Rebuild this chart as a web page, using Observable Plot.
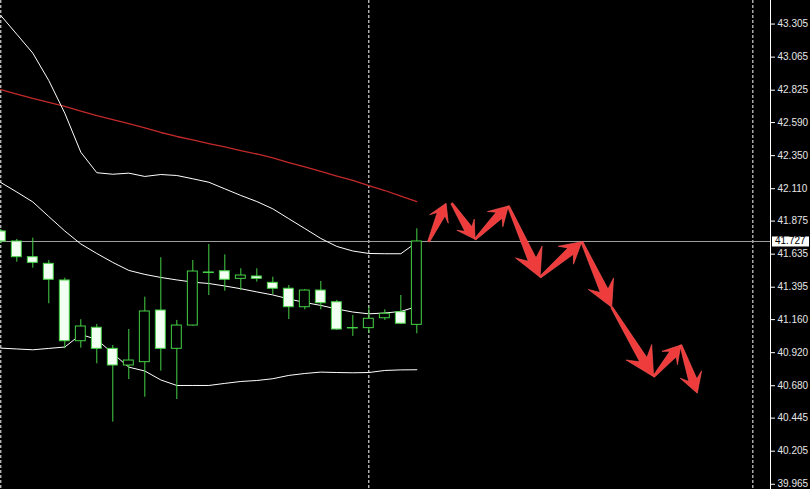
<!DOCTYPE html>
<html>
<head>
<meta charset="utf-8">
<script src="https://cdn.jsdelivr.net/npm/d3@7"></script>
<script src="https://cdn.jsdelivr.net/npm/@observablehq/plot@0.6"></script>
<style>
  html, body { margin: 0; padding: 0; background: #000; }
  #chart svg { display: block; }
</style>
</head>
<body>
<div id="chart"></div>
<script>
// ---- Candles (bar index 0..26) ----
const open  = [41.800, 41.727, 41.613, 41.565, 41.444, 41.003, 41.101, 40.948, 40.827, 40.851, 41.226, 40.948, 41.117, 41.502, 41.511, 41.456, 41.473, 41.427, 41.384, 41.250, 41.371, 41.286, 41.099, 41.098, 41.170, 41.214, 41.122];
const high  = [41.814, 41.742, 41.751, 41.589, 41.461, 41.159, 41.125, 40.972, 41.088, 41.323, 41.609, 41.154, 41.589, 41.705, 41.630, 41.529, 41.529, 41.468, 41.408, 41.378, 41.437, 41.299, 41.190, 41.250, 41.231, 41.335, 41.819];
const low   = [41.712, 41.577, 41.533, 41.275, 40.948, 40.953, 40.839, 40.416, 40.725, 40.597, 40.786, 40.580, 41.112, 41.335, 41.366, 41.371, 41.432, 41.340, 41.161, 41.231, 41.231, 41.081, 41.038, 41.059, 41.154, 41.125, 41.057];
const close = [41.727, 41.613, 41.572, 41.449, 41.003, 41.110, 40.948, 40.827, 40.863, 41.219, 40.948, 41.117, 41.509, 41.498, 41.449, 41.480, 41.456, 41.384, 41.250, 41.371, 41.279, 41.088, 41.096, 41.166, 41.202, 41.130, 41.727];

// ---- Indicators ----
const maRed     = [42.830, 42.797, 42.765, 42.736, 42.707, 42.674, 42.641, 42.612, 42.583, 42.551, 42.518, 42.489, 42.464, 42.438, 42.413, 42.387, 42.362, 42.333, 42.300, 42.268, 42.235, 42.202, 42.170, 42.133, 42.097, 42.057, 42.017];
const bandUpper = [43.367, 43.231, 43.094, 42.895, 42.658, 42.375, 42.226, 42.215, 42.223, 42.199, 42.213, 42.206, 42.182, 42.157, 42.109, 42.061, 42.017, 41.964, 41.892, 41.821, 41.749, 41.691, 41.658, 41.640, 41.638, 41.638, 41.722];
const bandMid   = [42.155, 42.086, 42.014, 41.908, 41.803, 41.709, 41.640, 41.575, 41.517, 41.488, 41.466, 41.448, 41.432, 41.422, 41.404, 41.384, 41.361, 41.339, 41.310, 41.284, 41.263, 41.237, 41.215, 41.202, 41.208, 41.219, 41.255];
const bandLower = [40.953, 40.947, 40.941, 40.951, 40.961, 41.052, 41.016, 40.914, 40.815, 40.787, 40.722, 40.682, 40.682, 40.682, 40.697, 40.711, 40.718, 40.731, 40.755, 40.769, 40.779, 40.776, 40.774, 40.776, 40.791, 40.795, 40.796];

// ---- Forecast arrows (bar index, price) ----
const arrowFromBar   = [26.77, 28.21, 29.67, 31.75, 33.73, 36.34, 38.21, 40.83, 42.53];
const arrowFromPrice = [41.722, 42.001, 41.739, 41.981, 41.464, 41.722, 41.246, 40.742, 40.972];
const arrowToBar     = [27.86, 29.67, 31.75, 33.73, 36.34, 38.21, 40.83, 42.53, 43.56];
const arrowToPrice   = [42.001, 41.739, 41.981, 41.464, 41.722, 41.246, 40.742, 40.972, 40.622];

// ---- Axis / misc ----
const yTicks = [43.305, 43.065, 42.825, 42.590, 42.350, 42.110, 41.875, 41.635, 41.395, 41.160, 40.920, 40.680, 40.445, 40.205, 39.965];
const separatorBars = [0, 23, 47];
const currentPrice = 41.727;
const xDomain = [-0.019, 48.103];
const yDomain = [39.927, 43.476];

const bars = open.map((_, i) => i);
const candles = bars.map(i => ({i, o: open[i], h: high[i], l: low[i], c: close[i]}));
const line = arr => bars.map(i => ({i, v: arr[i]}));
const arrows = arrowFromBar.map((_, k) => ({x1: arrowFromBar[k], y1: arrowFromPrice[k], x2: arrowToBar[k], y2: arrowToPrice[k]}));

const GREEN = "#46d246";

function arrowMark(index, scales, values, dimensions) {
  const g = d3.create("svg:g");
  for (const a of arrows) {
    const x0 = scales.x(a.x1), y0 = scales.y(a.y1);
    const x1 = scales.x(a.x2), y1 = scales.y(a.y2);
    const dx = x1 - x0, dy = y1 - y0, L = Math.hypot(dx, dy);
    const ux = dx / L, uy = dy / L, nx = -uy, ny = ux;
    const h = 0.29 * L + 5, hw = 0.42 * h + 3, sw = 4.2;
    const bx = x1 - ux * h, by = y1 - uy * h;
    const jx = x1 - ux * h * 0.7, jy = y1 - uy * h * 0.7;
    const pts = [
      [x0 + nx * 1, y0 + ny * 1],
      [jx + nx * sw, jy + ny * sw],
      [bx + nx * hw, by + ny * hw],
      [x1, y1],
      [bx - nx * hw, by - ny * hw],
      [jx - nx * sw, jy - ny * sw],
      [x0 - nx * 1, y0 - ny * 1]
    ];
    g.append("path")
      .attr("d", "M" + pts.map(p => p.join(",")).join("L") + "Z")
      .attr("fill", "#ee3c3c")
      .attr("stroke", "#ff5a5a")
      .attr("stroke-width", 0.6)
      .attr("stroke-linejoin", "round");
  }
  return g.node();
}

function priceBoxMark(index, scales, values, dimensions) {
  const g = d3.create("svg:g");
  const y = scales.y(currentPrice);
  const x = dimensions.width - dimensions.marginRight;
  g.append("rect").attr("x", x + 2).attr("y", y - 4.5).attr("width", 37).attr("height", 10).attr("fill", "#fff");
  g.append("text").attr("x", x + 5).attr("y", y).attr("dy", "0.35em")
    .attr("text-anchor", "start")
    .attr("fill", "#000").attr("font-size", 10).attr("font-family", "Liberation Sans, Arial, sans-serif")
    .text(d3.format(".3f")(currentPrice));
  return g.node();
}

const plot = Plot.plot({
  width: 810,
  height: 489,
  marginLeft: 0,
  marginRight: 40,
  marginTop: 0,
  marginBottom: 0,
  style: {background: "#000", color: "#e6e6e6", fontFamily: "Liberation Sans, Arial, sans-serif", fontSize: "10px"},
  x: {domain: xDomain, axis: null},
  y: {domain: yDomain, axis: null},
  marks: [
    Plot.ruleX(separatorBars, {stroke: "#fff", strokeDasharray: "3,2", strokeWidth: 1}),
    Plot.ruleY([currentPrice], {stroke: "#a0a0a0", strokeWidth: 1}),
    Plot.line(line(maRed), {x: "i", y: "v", stroke: "#c22a2a", strokeWidth: 1.3}),
    Plot.line(line(bandUpper), {x: "i", y: "v", stroke: "#fff", strokeWidth: 1}),
    Plot.line(line(bandMid), {x: "i", y: "v", stroke: "#fff", strokeWidth: 1}),
    Plot.line(line(bandLower), {x: "i", y: "v", stroke: "#fff", strokeWidth: 1}),
    Plot.ruleX(candles, {x: "i", y1: "l", y2: "h", stroke: GREEN, strokeWidth: 1}),
    Plot.rect(candles, {
      x1: d => d.i - 0.31, x2: d => d.i + 0.31,
      y1: "o", y2: "c",
      fill: d => d.c < d.o ? "#f2fff2" : "#000",
      stroke: GREEN, strokeWidth: 1
    }),
    arrowMark,
    Plot.ruleX([xDomain[1]], {stroke: "#fff", strokeWidth: 1}),
    Plot.axisY({anchor: "right", ticks: yTicks, tickFormat: d3.format(".3f"), tickSize: 4, tickPadding: 3, label: null, stroke: "#fff", fill: "#e6e6e6", fontSize: 10}),
    priceBoxMark
  ]
});
document.getElementById("chart").appendChild(plot);
</script>
</body>
</html>
